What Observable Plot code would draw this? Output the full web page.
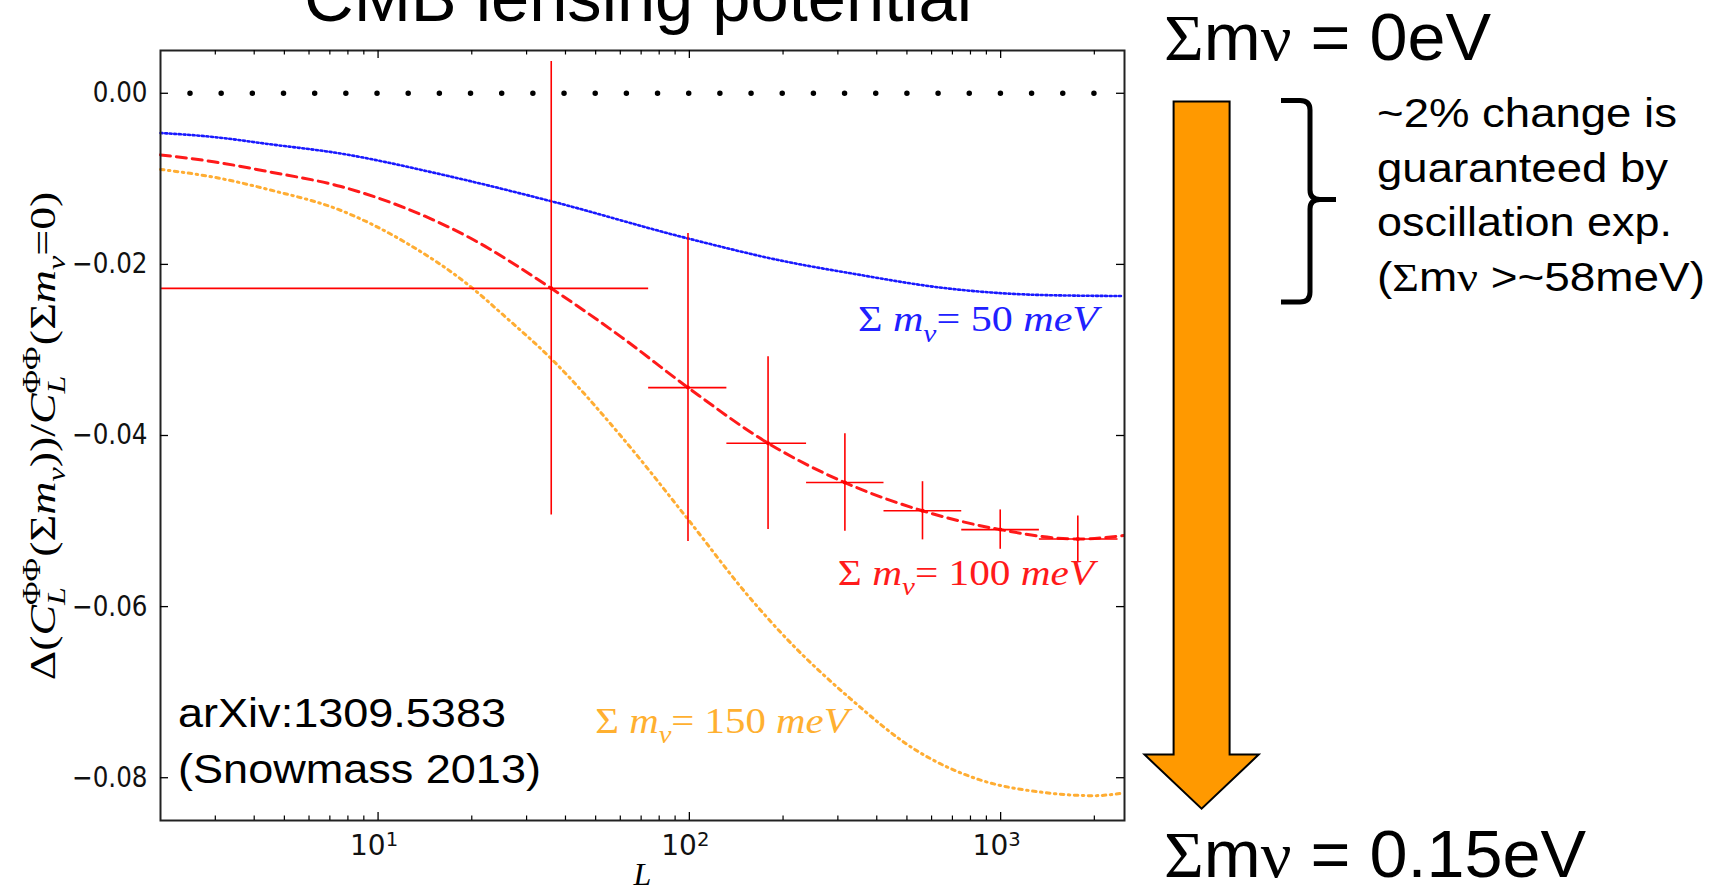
<!DOCTYPE html>
<html><head><meta charset="utf-8">
<script src="https://cdn.jsdelivr.net/npm/d3@7"></script>
<script src="https://cdn.jsdelivr.net/npm/@observablehq/plot@0.6"></script>
<style>
html,body{margin:0;padding:0;background:#fff;overflow:hidden;}
#chart{width:1724px;height:893px;overflow:hidden;position:relative;background:#fff;}
#chart svg{display:block;}
text{white-space:pre;}
</style></head><body><div id="chart"></div>
<script>
// ---- data ----
const L50 = [2, 2.96, 4.5, 7.6, 15.5, 36, 99, 206, 331, 671, 1361, 2480];
const v50 = [-0.00464, -0.00511, -0.00596, -0.00705, -0.00938, -0.01262, -0.01697, -0.0197, -0.02105, -0.0228, -0.02358, -0.0237];

const L100 = [2, 2.96, 4.5, 7.6, 12.2, 19.5, 36, 60.5, 99, 179, 316, 561, 997, 1770, 2480];
const v100 = [-0.0072, -0.0080, -0.0092, -0.0109, -0.0134, -0.0168, -0.0228, -0.0285, -0.0344, -0.0409, -0.0455, -0.0488, -0.0510, -0.0521, -0.0517];

const L150 = [2, 2.96, 4.5, 7.6, 12.2, 19.5, 25.4, 36.4, 61.7, 99, 155, 206, 330, 530, 849, 1361, 1985, 2480];
const v150 = [-0.0089, -0.0098, -0.0113, -0.0137, -0.0174, -0.0224, -0.0260, -0.0312, -0.0405, -0.0498, -0.0588, -0.0638, -0.0708, -0.0767, -0.0802, -0.0817, -0.0821, -0.0818];

const binL   = [36, 99, 179, 316, 561, 997, 1770];
const binLo  = [2, 74, 132, 238, 422, 750, 1332];
const binHi  = [74, 132, 238, 422, 750, 1332, 2383];
const binV   = [-0.0228, -0.0344, -0.0409, -0.0455, -0.0488, -0.0510, -0.0521];
const binErr = [0.0265, 0.018, 0.0101, 0.0057, 0.0034, 0.0023, 0.0027];

const xMajor = [10, 100, 1000];
const xMinor = [3,4,5,6,7,8,9, 20,30,40,50,60,70,80,90, 200,300,400,500,600,700,800,900, 2000];
const yTicks = [0, -0.02, -0.04, -0.06, -0.08];

const annoMass = ["50", "100", "150"];
const annoL = [349, 301, 50];
const annoV = [-0.0279, -0.0575, -0.0748];

const titleText = "CMB lensing potential";
const captionLines = ["arXiv:1309.5383", "(Snowmass 2013)"];
const noteLines = ["~2% change is", "guaranteed by", "oscillation exp.", "(Σmν >~58meV)"];

// ---- tables ----
const s50 = L50.map((L,i)=>({L, v:v50[i]}));
const s100 = L100.map((L,i)=>({L, v:v100[i]}));
const s150 = L150.map((L,i)=>({L, v:v150[i]}));
const bins = binL.map((L,i)=>({L, lo:binLo[i], hi:binHi[i], v:binV[i], e:binErr[i]}));

const W=1724, H=893, mL=160, mR=600, mT=50, mB=73;
const fW = W-mL-mR, fH = H-mT-mB;

const plot = Plot.plot({
  width: W, height: H,
  marginLeft: mL, marginRight: mR, marginTop: mT, marginBottom: mB,
  style: {background: "white", fontFamily: "DejaVu Sans", overflow: "visible"},
  x: {type: "log", domain: [2, 2500], label: null},
  y: {domain: [-0.085, 0.005], label: null},
  marks: [
    Plot.ruleY([0], {stroke: "black", strokeWidth: 5.5, strokeDasharray: "0 31.17", strokeDashoffset: 1.17, strokeLinecap: "round"}),
    Plot.line(s50, {x: "L", y: "v", stroke: "#1a1aff", strokeWidth: 2.6, strokeDasharray: "2 2.6", curve: "monotone-x"}),
    Plot.line(s150, {x: "L", y: "v", stroke: "#ffad33", strokeWidth: 3, strokeDasharray: "3.5 4.5 1.5 4.5", curve: "monotone-x"}),
    Plot.line(s100, {x: "L", y: "v", stroke: "#ff1a1a", strokeWidth: 3, strokeDasharray: "10 6", curve: "monotone-x"}),
    Plot.ruleX(bins, {x: "L", y1: d=>d.v-d.e, y2: d=>d.v+d.e, stroke: "#ff0000", strokeWidth: 1.6}),
    Plot.ruleY(bins, {y: "v", x1: "lo", x2: "hi", stroke: "#ff0000", strokeWidth: 1.6}),
    Plot.dot(bins, {x: "L", y: "v", r: 2, fill: "#ff0000"}),
    Plot.frame({stroke: "#222", strokeWidth: 2}),
    Plot.tickX(xMajor, {x: d=>d, insetTop: fH-8, stroke: "black", strokeWidth: 1.3}),
    Plot.tickX(xMajor, {x: d=>d, insetBottom: fH-8, stroke: "black", strokeWidth: 1.3}),
    Plot.tickX(xMinor, {x: d=>d, insetTop: fH-4.5, stroke: "black", strokeWidth: 1.2}),
    Plot.tickX(xMinor, {x: d=>d, insetBottom: fH-4.5, stroke: "black", strokeWidth: 1.2}),
    Plot.tickY(yTicks, {y: d=>d, insetRight: fW-8, stroke: "black", strokeWidth: 1.3}),
    Plot.tickY(yTicks, {y: d=>d, insetLeft: fW-8, stroke: "black", strokeWidth: 1.3}),
    Plot.axisX({ticks: xMajor, tickSize: 0, tickPadding: 15, fontSize: 28, dx: -4,
      tickFormat: d => String(Math.round(Math.log10(d))), label: null, fill: "#111"}),
    Plot.axisY({ticks: yTicks, tickSize: 0, tickPadding: 13, fontSize: 28,
      tickFormat: d3.format(".2f"), label: null, fill: "#111"})
  ]
});
document.getElementById("chart").appendChild(plot);

const svg = d3.select(plot);
const sx = plot.scale("x"), sy = plot.scale("y");

// superscript exponents on x tick labels
svg.selectAll('g[aria-label="x-axis tick label"] text').each(function(){
  const t = d3.select(this);
  const e = t.text();
  t.text("");
  t.append("tspan").text("10");
  t.append("tspan").attr("dy", "-0.5em").attr("font-size", "0.7em").text(e);
});
// slightly narrow y tick labels as in the source
svg.selectAll('g[aria-label="y-axis tick label"] text').each(function(){
  const len = this.getComputedTextLength();
  d3.select(this).attr("textLength", len*0.88).attr("lengthAdjust", "spacingAndGlyphs");
});

// rich text helper: parts = [[text, style]], style among n,i,isub,sym,stack
function rich(x, y, parts, o) {
  const g = svg.append("g").attr("transform", `translate(${x},${y})` + (o.rotate ? ` rotate(${o.rotate})` : ""));
  const t = g.append("text")
    .attr("font-family", o.family).attr("font-size", o.size).attr("fill", o.fill || "black");
  let shift = 0, pendingDx = 0;
  for (const [s, st] of parts) {
    if (st === "stack") { // s = [sup, sub] stacked on one spot
      const up = t.append("tspan").attr("font-size", o.size*0.7).text(s[0]);
      up.attr("dy", -o.size*0.42 - shift);
      if (pendingDx) up.attr("dx", pendingDx);
      const w1 = up.node().getComputedTextLength();
      const dn = t.append("tspan").attr("font-size", o.size*0.7).attr("font-style", "italic")
        .attr("dx", -w1).attr("dy", o.size*0.42 + o.size*0.28).text(s[1]);
      const w2 = dn.node().getComputedTextLength();
      shift = o.size*0.28;
      pendingDx = Math.max(0, w1 - w2) + 1;
      continue;
    }
    const ts = t.append("tspan").text(s);
    let target = 0;
    if (st === "i" || st === "isub") ts.attr("font-style", "italic");
    if (st === "isub") { ts.attr("font-size", o.size*0.7); target = o.size*0.28; }
    if (st === "sym") ts.attr("font-family", "Liberation Serif");
    if (target !== shift) { ts.attr("dy", target - shift); shift = target; }
    if (pendingDx) { ts.attr("dx", pendingDx); pendingDx = 0; }
  }
  const bb = t.node().getBBox();
  const k = o.width ? o.width / bb.width : 1;
  const off = o.anchor === "middle" ? -(bb.x + bb.width/2) : -bb.x;
  t.attr("transform", `scale(${k},1) translate(${off},0)`);
  return g;
}

// title (cut at the top edge, as in the source slide)
rich(304, 21, [[titleText, "n"]], {family: "Liberation Sans", size: 68, width: 668});

// in-plot labels for the curves
const annoColor = ["#2020ff", "#ff1a1a", "#ffb030"];
const annoWidth = [245, 261, 258];
annoMass.forEach((m, i) => {
  rich(sx.apply(annoL[i]), sy.apply(annoV[i]),
    [["Σ ", "n"], ["m", "i"], ["ν", "isub"], ["= " + m + " ", "n"], ["meV", "i"]],
    {family: "Liberation Serif", size: 36, fill: annoColor[i], width: annoWidth[i]});
});

// source caption inside the frame
rich(mL + 18, 727, [[captionLines[0], "n"]], {family: "Liberation Sans", size: 40, width: 328});
rich(mL + 18, 783, [[captionLines[1], "n"]], {family: "Liberation Sans", size: 40, width: 363});

// axis titles
rich(mL + fW/2, 885, [["L", "i"]], {family: "Liberation Serif", size: 32, anchor: "middle"});
rich(55, 436, [
  ["Δ(", "n"], ["C", "i"], [["ΦΦ", "L"], "stack"], ["(Σ", "n"], ["m", "i"], ["ν", "isub"],
  ["))/", "n"], ["C", "i"], [["ΦΦ", "L"], "stack"], ["(Σ", "n"], ["m", "i"], ["ν", "isub"], ["=0)", "n"]
], {family: "Liberation Serif", size: 35, rotate: -90, anchor: "middle", width: 489});

// right-hand annotation: arrow, brace and notes
svg.append("path")
  .attr("d", "M1173.6,101.4 L1229.6,101.4 L1229.6,754.6 L1258.7,754.6 L1201.6,808.7 L1144.5,754.6 L1173.6,754.6 Z")
  .attr("fill", "#ff9900").attr("stroke", "black").attr("stroke-width", 2).attr("stroke-linejoin", "miter");
svg.append("path")
  .attr("d", "M1281,100.5 L1300,100.5 Q1310,100.5 1310,110 L1310,190 Q1310,199.5 1320,199.5 L1336,199.5 M1320,199.5 Q1310,199.5 1310,209 L1310,292 Q1310,302 1300,302 L1281,302")
  .attr("fill", "none").attr("stroke", "black").attr("stroke-width", 5);

rich(1164, 60, [["Σ", "sym"], ["m", "n"], ["ν", "sym"], [" = 0eV", "n"]], {family: "Liberation Sans", size: 66, width: 327});
rich(1164, 877, [["Σ", "sym"], ["m", "n"], ["ν", "sym"], [" = 0.15eV", "n"]], {family: "Liberation Sans", size: 66, width: 422});

const noteBase = [127, 182, 236, 291];
const noteWidth = [300, 291, 295, 328];
noteLines.forEach((line, i) => {
  const parts = line.startsWith("(Σ")
    ? [["(", "n"], ["Σ", "sym"], ["m", "n"], ["ν", "sym"], [line.slice(4), "n"]]
    : [[line, "n"]];
  rich(1377, noteBase[i], parts, {family: "Liberation Sans", size: 40, width: noteWidth[i]});
});
</script></body></html>
